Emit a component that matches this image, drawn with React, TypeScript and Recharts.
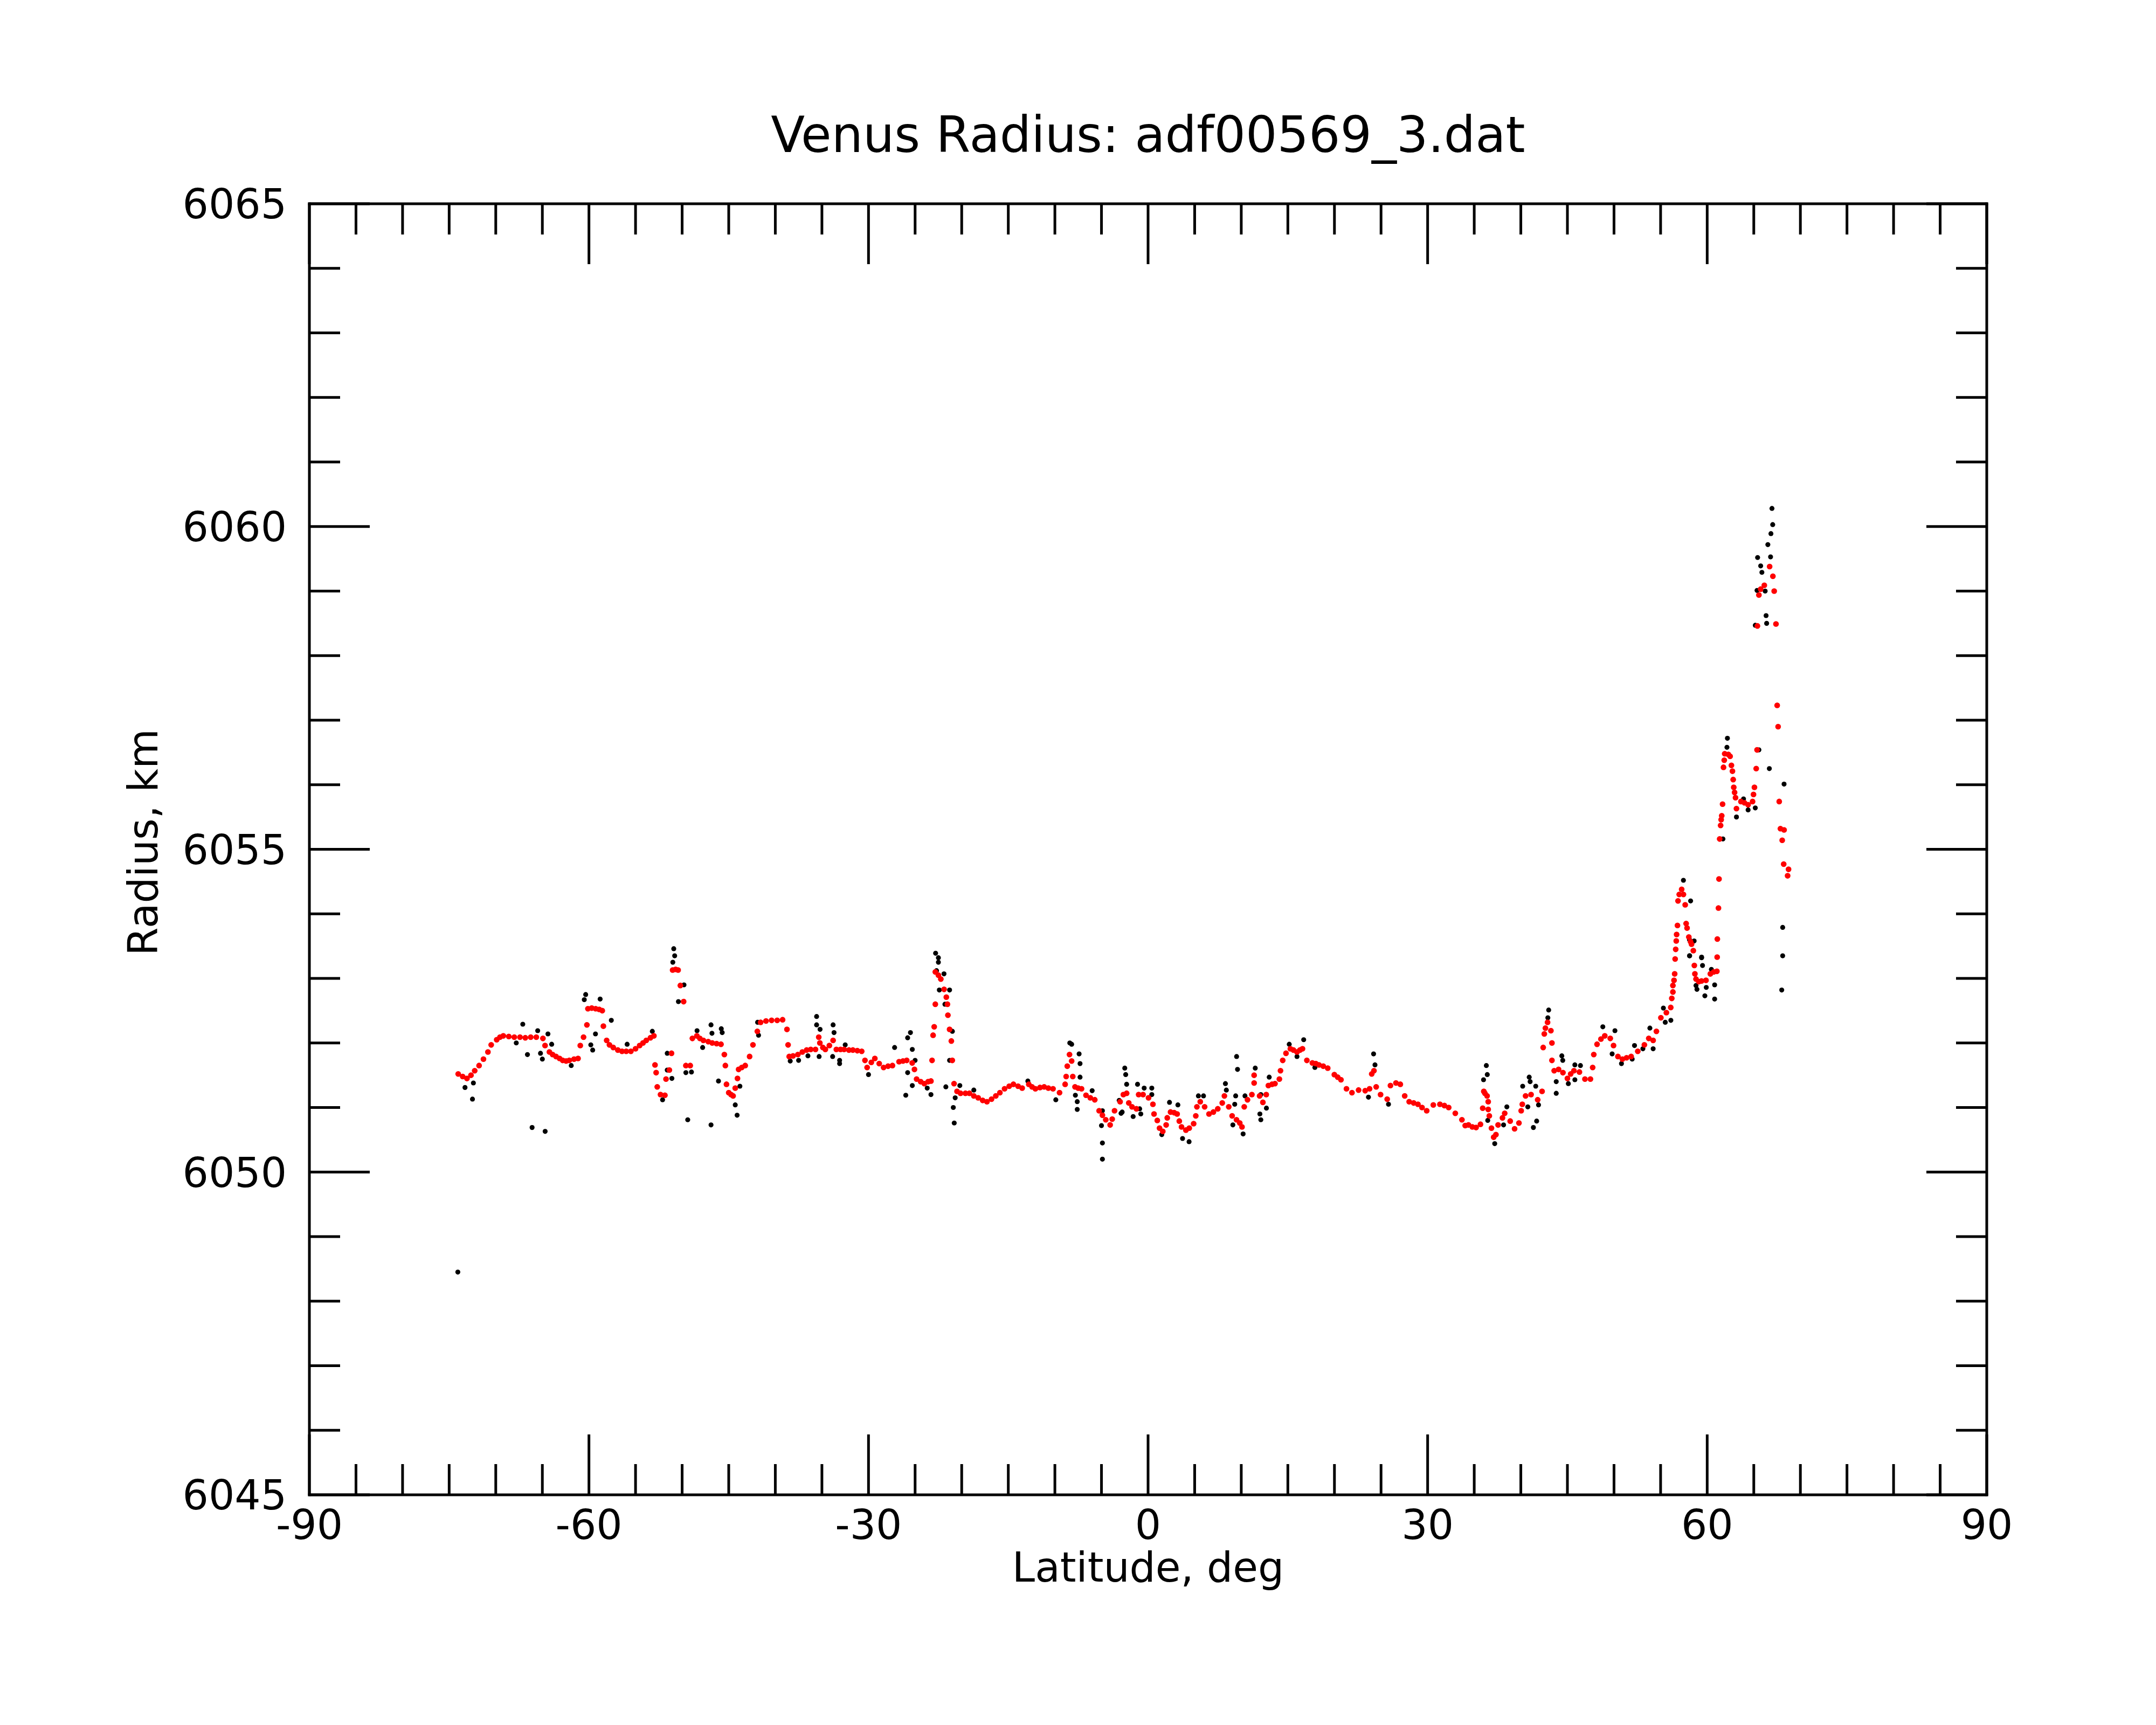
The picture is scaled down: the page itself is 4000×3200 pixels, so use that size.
import React from 'react';
import { ScatterChart, Scatter, XAxis, YAxis, Label } from 'recharts';

// ---------- tick values ----------
const xTickValues = [-90, -85, -80, -75, -70, -65, -60, -55, -50, -45, -40, -35, -30, -25, -20, -15, -10, -5, 0, 5, 10, 15, 20, 25, 30, 35, 40, 45, 50, 55, 60, 65, 70, 75, 80, 85, 90];
const yTickValues = [6045, 6046, 6047, 6048, 6049, 6050, 6051, 6052, 6053, 6054, 6055, 6056, 6057, 6058, 6059, 6060, 6061, 6062, 6063, 6064, 6065];
const xMajorStep = 30;
const yMajorStep = 5;

const titleText = 'Venus Radius: adf00569_3.dat';
const xLabelText = 'Latitude, deg';
const yLabelText = 'Radius, km';

// ---------- red (filtered) series: [latitude, radius] ----------
const redSouth: [number, number][] = [
  [-74.03, 6051.52], [-73.55, 6051.48], [-73.09, 6051.45], [-72.66, 6051.5], [-72.26, 6051.57], [-71.79, 6051.65],
  [-71.32, 6051.75], [-70.84, 6051.86], [-70.49, 6051.97], [-69.9, 6052.05], [-69.55, 6052.09], [-69.19, 6052.11],
  [-68.6, 6052.1], [-68.01, 6052.09], [-67.4, 6052.09], [-66.83, 6052.08], [-66.25, 6052.09], [-65.65, 6052.09],
  [-64.94, 6052.07], [-64.71, 6051.96], [-64.24, 6051.86], [-63.9, 6051.82], [-63.53, 6051.79], [-63.15, 6051.76],
  [-62.82, 6051.73], [-62.45, 6051.72], [-62.11, 6051.73], [-61.6, 6051.75], [-61.17, 6051.76], [-60.93, 6051.96],
  [-60.58, 6052.09], [-60.22, 6052.28], [-60.11, 6052.53], [-59.7, 6052.54], [-59.28, 6052.53], [-58.9, 6052.52],
  [-58.57, 6052.5], [-58.45, 6052.26], [-58.1, 6052.04], [-57.8, 6051.97], [-57.39, 6051.93], [-56.9, 6051.89],
  [-56.45, 6051.87], [-56.0, 6051.87], [-55.5, 6051.87], [-55.0, 6051.91], [-54.56, 6051.96], [-54.2, 6052.0],
  [-53.85, 6052.04], [-53.4, 6052.08], [-53.03, 6052.11], [-52.91, 6051.66], [-52.79, 6051.54], [-52.67, 6051.32],
  [-52.32, 6051.2], [-51.85, 6051.19], [-51.73, 6051.44], [-51.37, 6051.58], [-51.14, 6051.84], [-51.02, 6053.13],
  [-50.7, 6053.14], [-50.43, 6053.13], [-50.19, 6052.89], [-49.84, 6052.64], [-49.6, 6051.65], [-49.13, 6051.65],
  [-48.9, 6052.07], [-48.42, 6052.11], [-48.1, 6052.07], [-47.72, 6052.04], [-47.2, 6052.02], [-46.77, 6052.0],
  [-46.3, 6051.99], [-45.83, 6051.98], [-45.47, 6051.82], [-45.36, 6051.65], [-45.24, 6051.36], [-45.0, 6051.23],
  [-44.75, 6051.2], [-44.53, 6051.18], [-44.3, 6051.3], [-44.06, 6051.45], [-43.94, 6051.59], [-43.6, 6051.62],
  [-43.23, 6051.65], [-42.76, 6051.79], [-42.4, 6051.97], [-41.93, 6052.18], [-41.58, 6052.32], [-41.0, 6052.34],
  [-40.4, 6052.35], [-39.8, 6052.35], [-39.22, 6052.36], [-38.75, 6052.21], [-38.63, 6051.97], [-38.51, 6051.79],
  [-38.1, 6051.8], [-37.58, 6051.82], [-37.1, 6051.86], [-36.64, 6051.89], [-36.2, 6051.9], [-35.69, 6051.9],
  [-35.34, 6052.09], [-35.22, 6052.0], [-34.9, 6051.93], [-34.63, 6051.9], [-34.2, 6051.96], [-33.8, 6052.04],
  [-33.45, 6051.9], [-33.0, 6051.9], [-32.62, 6051.9], [-32.1, 6051.89], [-31.68, 6051.89], [-31.2, 6051.88],
  [-30.73, 6051.87], [-30.38, 6051.73], [-30.15, 6051.62], [-29.7, 6051.7], [-29.32, 6051.76], [-28.85, 6051.68],
  [-28.38, 6051.62], [-27.9, 6051.64], [-27.43, 6051.65], [-26.72, 6051.71], [-26.3, 6051.72], [-25.9, 6051.73],
  [-25.31, 6051.69], [-25.07, 6051.59], [-24.84, 6051.44], [-24.4, 6051.4], [-24.01, 6051.37], [-23.6, 6051.4],
  [-23.3, 6051.41], [-23.18, 6051.73], [-23.07, 6052.12], [-22.95, 6052.25], [-22.83, 6052.6], [-22.83, 6053.1],
  [-22.5, 6053.05], [-22.24, 6052.99], [-21.89, 6052.83], [-21.65, 6052.71], [-21.53, 6052.6], [-21.48, 6052.43],
  [-21.3, 6052.21], [-21.11, 6052.03], [-21.01, 6051.73], [-20.82, 6051.37],
];

const redEquator: [number, number][] = [
  [-20.5, 6051.25], [-20.12, 6051.22], [-19.6, 6051.22], [-19.17, 6051.22], [-18.7, 6051.18], [-18.23, 6051.15],
  [-17.75, 6051.11], [-17.29, 6051.09], [-16.8, 6051.13], [-16.34, 6051.18], [-15.9, 6051.23], [-15.4, 6051.29],
  [-14.9, 6051.33], [-14.45, 6051.36], [-13.95, 6051.33], [-13.51, 6051.3], [-12.8, 6051.36], [-12.45, 6051.32],
  [-12.09, 6051.29], [-11.6, 6051.31], [-11.15, 6051.32], [-10.7, 6051.3], [-10.2, 6051.29], [-9.5, 6051.23],
  [-8.9, 6051.36], [-8.79, 6051.48], [-8.67, 6051.64], [-8.43, 6051.82], [-8.2, 6051.72], [-8.08, 6051.48],
  [-7.84, 6051.32], [-7.5, 6051.3], [-7.14, 6051.29], [-6.66, 6051.19], [-6.2, 6051.15], [-5.72, 6051.12],
  [-5.25, 6050.95], [-4.9, 6050.88], [-4.54, 6050.81], [-4.07, 6050.73], [-3.85, 6050.82], [-3.6, 6050.95],
  [-3.0, 6051.09], [-2.65, 6051.2], [-2.3, 6051.22], [-2.07, 6051.07], [-1.72, 6051.01], [-1.25, 6050.98],
  [-1.01, 6051.2], [-0.54, 6051.2], [0.05, 6051.15], [0.52, 6051.05], [0.64, 6050.9], [0.99, 6050.8],
  [1.23, 6050.68], [1.58, 6050.63], [1.94, 6050.73], [2.06, 6050.84], [2.41, 6050.93], [2.8, 6050.92],
  [3.12, 6050.9], [3.35, 6050.79], [3.59, 6050.7], [4.06, 6050.65], [4.42, 6050.68], [4.89, 6050.75],
  [5.12, 6050.87], [5.24, 6051.01], [5.6, 6051.09], [6.07, 6051.01], [6.54, 6050.9], [7.01, 6050.93],
  [7.48, 6050.98], [7.96, 6051.07], [8.19, 6051.18], [8.66, 6051.01], [9.02, 6050.87], [9.49, 6050.81],
  [9.84, 6050.76], [10.08, 6050.7], [10.32, 6051.01], [10.67, 6051.12], [11.14, 6051.2], [11.38, 6051.5],
  [11.38, 6051.38], [11.97, 6051.18], [12.32, 6051.08], [12.68, 6051.2], [12.91, 6051.34], [13.3, 6051.36],
  [13.62, 6051.37], [14.09, 6051.44], [14.21, 6051.57], [14.45, 6051.73], [14.8, 6051.84], [15.27, 6051.91],
  [15.6, 6051.89], [15.98, 6051.86], [16.3, 6051.89], [16.57, 6051.91], [17.04, 6051.73], [17.63, 6051.69],
  [18.0, 6051.68], [18.34, 6051.66], [18.8, 6051.64], [19.28, 6051.61], [19.99, 6051.51], [20.35, 6051.47],
  [20.7, 6051.43], [21.29, 6051.29], [21.88, 6051.23], [22.59, 6051.27], [23.3, 6051.26], [23.77, 6051.29],
  [24.0, 6051.52], [24.24, 6051.57], [24.48, 6051.32], [24.95, 6051.2], [25.66, 6051.13], [26.01, 6051.34],
  [26.6, 6051.38], [27.07, 6051.36], [27.54, 6051.18], [28.02, 6051.09], [28.5, 6051.07], [28.96, 6051.05],
  [29.4, 6051.0], [29.9, 6050.95], [30.61, 6051.04], [31.32, 6051.05], [31.8, 6051.03], [32.26, 6051.0],
  [32.97, 6050.91], [33.68, 6050.81], [34.03, 6050.72],
];

const redNorth: [number, number][] = [
  [34.38, 6050.73], [34.8, 6050.7], [35.2, 6050.69], [35.67, 6050.74], [35.91, 6050.99], [36.03, 6051.25],
  [36.15, 6051.22], [36.38, 6051.18], [36.5, 6051.09], [36.5, 6050.97], [36.62, 6050.87], [36.85, 6050.68],
  [37.09, 6050.54], [37.33, 6050.58], [37.56, 6050.73], [38.03, 6050.84], [38.27, 6050.91], [38.86, 6050.79],
  [39.33, 6050.67], [39.8, 6050.76], [40.04, 6050.95], [40.16, 6051.05], [40.51, 6051.18], [41.1, 6051.2],
  [41.81, 6051.12], [42.28, 6051.25], [42.4, 6051.93], [42.52, 6052.14], [42.64, 6052.23], [42.87, 6052.32],
  [43.23, 6052.19], [43.34, 6052.0], [43.34, 6051.73], [43.58, 6051.57], [44.05, 6051.59], [44.52, 6051.54],
  [45.0, 6051.45], [45.35, 6051.52], [45.7, 6051.57], [46.29, 6051.55], [46.88, 6051.44], [47.47, 6051.44],
  [47.71, 6051.62], [47.83, 6051.82], [48.18, 6051.98], [48.6, 6052.06], [49.01, 6052.11], [49.6, 6052.07],
  [49.95, 6051.96], [50.42, 6051.79], [50.9, 6051.75], [51.35, 6051.77], [51.84, 6051.79], [52.55, 6051.87],
  [53.26, 6051.97], [53.73, 6052.07], [54.2, 6052.04], [54.55, 6052.18], [55.03, 6052.39], [55.62, 6052.47],
  [56.09, 6052.55], [56.2, 6052.69], [56.32, 6052.79], [56.32, 6052.89], [56.44, 6052.97], [56.51, 6053.07],
  [56.56, 6053.3], [56.62, 6053.45], [56.68, 6053.58], [56.72, 6053.68], [56.81, 6053.82], [56.87, 6054.2],
  [57.0, 6054.3], [57.26, 6054.38], [57.45, 6054.3], [57.64, 6054.14], [57.74, 6053.85], [57.84, 6053.78],
  [58.03, 6053.64], [58.21, 6053.57], [58.32, 6053.53], [58.51, 6053.43], [58.62, 6053.2], [58.68, 6053.07],
  [58.8, 6052.99], [59.1, 6052.95], [59.39, 6052.96], [59.87, 6052.97], [60.34, 6053.07], [60.7, 6053.1],
  [61.04, 6053.11], [61.07, 6053.33], [61.09, 6053.61], [61.21, 6054.09], [61.27, 6054.54], [61.34, 6055.16],
  [61.44, 6055.37], [61.5, 6055.46], [61.56, 6055.52], [61.65, 6055.7], [61.75, 6056.27], [61.83, 6056.38],
  [61.88, 6056.48], [62.27, 6056.47], [62.46, 6056.44], [62.6, 6056.3], [62.71, 6056.21], [62.79, 6056.08],
  [62.85, 6055.96], [62.94, 6055.88], [63.04, 6055.8], [63.14, 6055.63], [63.62, 6055.74], [64.0, 6055.72],
  [64.39, 6055.69], [64.87, 6055.74], [64.97, 6055.85], [65.07, 6055.96], [65.26, 6056.25], [65.35, 6056.54],
  [65.39, 6058.46], [65.55, 6058.94], [65.74, 6059.03], [66.13, 6059.09], [66.7, 6059.38], [67.05, 6059.23],
  [67.19, 6059.0], [67.38, 6058.49], [67.51, 6057.23], [67.61, 6056.9], [67.73, 6055.74], [67.86, 6055.32],
  [68.05, 6055.14], [68.25, 6055.3], [68.21, 6054.77], [68.63, 6054.59], [68.73, 6054.69],
];

// ---------- black (raw) points away from the red trace: [latitude, radius] ----------
const blackSouth: [number, number][] = [
  [-74.07, 6048.45], [-72.5, 6051.13], [-73.3, 6051.31], [-72.4, 6051.38], [-67.1, 6052.29], [-66.6, 6051.82],
  [-67.8, 6052.0], [-65.5, 6052.19], [-64.4, 6052.14], [-64.0, 6051.98], [-65.2, 6051.84], [-65.0, 6051.75],
  [-66.1, 6050.69], [-64.7, 6050.63], [-61.9, 6051.65], [-60.35, 6052.75], [-60.5, 6052.67], [-58.8, 6052.68],
  [-57.6, 6052.35], [-59.3, 6052.14], [-59.8, 6051.97], [-59.6, 6051.89], [-55.9, 6051.98], [-53.2, 6052.18],
  [-50.9, 6053.46], [-50.8, 6053.35], [-51.0, 6053.25], [-49.8, 6052.9], [-50.4, 6052.64], [-51.6, 6051.84],
  [-51.6, 6051.58], [-51.1, 6051.45], [-52.1, 6051.12], [-48.4, 6052.19], [-47.8, 6051.93], [-49.6, 6051.54],
  [-49.0, 6051.55], [-46.9, 6052.28], [-46.8, 6052.15], [-45.8, 6052.22], [-45.7, 6052.16], [-46.1, 6051.41],
  [-49.4, 6050.81], [-46.9, 6050.73], [-44.3, 6051.04], [-44.1, 6050.88], [-43.8, 6051.33], [-41.9, 6052.32],
  [-41.8, 6052.12], [-38.4, 6051.72], [-35.57, 6052.41], [-35.57, 6052.28], [-35.2, 6052.21], [-33.8, 6052.28],
  [-33.7, 6052.16], [-35.3, 6051.79], [-33.85, 6051.79], [-33.1, 6051.73], [-33.1, 6051.68], [-37.5, 6051.73],
  [-36.5, 6051.8], [-32.5, 6051.97], [-30.0, 6051.51], [-27.2, 6051.93], [-25.8, 6052.08], [-25.5, 6052.16],
  [-25.3, 6051.9], [-25.0, 6051.73], [-25.8, 6051.54], [-25.3, 6051.34], [-26.0, 6051.19], [-23.3, 6051.2],
  [-23.7, 6051.3], [-22.8, 6053.39], [-22.5, 6053.32], [-22.5, 6053.25], [-22.7, 6053.12], [-21.9, 6053.07],
  [-22.4, 6052.82], [-21.3, 6052.82], [-21.8, 6052.6], [-21.0, 6052.18], [-21.3, 6051.73], [-21.7, 6051.32],
  [-20.7, 6051.15], [-20.9, 6051.0], [-20.8, 6050.76], [-20.2, 6051.34],
];

const blackEquator: [number, number][] = [
  [-18.7, 6051.27], [-12.9, 6051.41], [-9.9, 6051.12], [-8.4, 6052.0], [-8.2, 6051.98], [-7.4, 6051.83],
  [-7.3, 6051.68], [-7.3, 6051.47], [-7.8, 6051.19], [-7.6, 6051.09], [-7.6, 6050.97], [-6.0, 6051.26],
  [-4.9, 6050.95], [-5.0, 6050.72], [-4.9, 6050.45], [-4.9, 6050.2], [-3.1, 6051.11], [-2.9, 6050.91],
  [-2.5, 6051.61], [-2.4, 6051.51], [-2.3, 6051.36], [-1.13, 6051.36], [-0.42, 6051.3], [0.4, 6051.3],
  [0.4, 6051.2], [-2.78, 6050.93], [-1.6, 6050.86], [-0.78, 6050.9], [-0.9, 6050.98], [2.3, 6051.08],
  [3.2, 6051.04], [1.47, 6050.58], [3.7, 6050.52], [4.4, 6050.47], [5.4, 6051.18], [5.95, 6051.18],
  [8.3, 6051.37], [8.4, 6051.27], [9.5, 6051.79], [9.6, 6051.59], [9.4, 6051.18], [9.3, 6051.05],
  [9.1, 6050.73], [10.2, 6050.59], [10.4, 6051.18], [11.5, 6051.61], [12.1, 6051.2], [12.0, 6050.9],
  [12.1, 6050.81], [12.7, 6050.99], [13.0, 6051.47], [15.15, 6051.98], [16.7, 6052.05], [15.98, 6051.79],
  [17.9, 6051.62], [24.2, 6051.83], [24.35, 6051.66], [25.8, 6051.05], [23.65, 6051.16],
];

const blackNorth: [number, number][] = [
  [36.3, 6051.65], [36.4, 6051.51], [36.0, 6051.43], [36.45, 6050.8], [37.2, 6050.44], [38.5, 6051.01],
  [38.15, 6050.73], [40.9, 6051.47], [41.0, 6051.4], [40.2, 6051.33], [41.6, 6051.33], [41.9, 6051.04],
  [40.75, 6051.01], [41.7, 6050.79], [41.35, 6050.69], [42.99, 6052.51], [42.9, 6052.39], [44.4, 6051.8],
  [44.5, 6051.73], [43.8, 6051.4], [43.8, 6051.22], [45.1, 6051.37], [45.8, 6051.66], [46.4, 6051.65],
  [45.8, 6051.43], [48.8, 6052.25], [50.1, 6052.19], [49.8, 6051.83], [50.8, 6051.68], [51.95, 6051.75],
  [52.2, 6051.96], [53.1, 6051.91], [53.85, 6052.23], [54.2, 6051.91], [55.3, 6052.54], [55.5, 6052.32],
  [56.1, 6052.35], [58.1, 6053.6], [58.1, 6053.35], [59.4, 6053.32], [59.5, 6053.2], [58.8, 6052.89],
  [58.9, 6052.83], [59.9, 6052.86], [59.75, 6052.73], [60.8, 6052.9], [60.8, 6052.68], [60.45, 6053.14],
  [68.1, 6053.79], [68.1, 6053.35], [68.0, 6052.82], [66.95, 6060.28], [67.03, 6060.03], [66.84, 6059.89],
  [66.51, 6059.72], [65.41, 6059.52], [66.8, 6059.53], [65.74, 6059.39], [65.87, 6059.29], [65.35, 6059.01],
  [66.22, 6059.0], [66.32, 6058.62], [66.38, 6058.5], [65.16, 6058.47], [62.17, 6056.72], [62.12, 6056.58],
  [65.55, 6056.54], [66.67, 6056.25], [68.25, 6056.01], [63.9, 6055.78], [64.39, 6055.61], [65.16, 6055.64],
  [63.14, 6055.5], [61.69, 6055.16], [57.45, 6054.52], [58.22, 6054.2], [58.12, 6053.35], [59.4, 6053.33],
  [58.6, 6053.58],
];

// ---------- build series ----------
type Row = { lat: number; r: number };
const toRows = (pairs: [number, number][]): Row[] => pairs.map(([lat, r]) => ({ lat, r }));
const redData = toRows([...redSouth, ...redEquator, ...redNorth]);
// raw data contains every filtered point plus the rejected outliers
const blackData = toRows([...redSouth, ...redEquator, ...redNorth, ...blackSouth, ...blackEquator, ...blackNorth]);

const FONT = 'DejaVu Sans';
const INK = '#000000';
const RED = '#ff0000';
const LINE_W = 5;
const MAJOR_LEN = 112;
const MINOR_LEN = 57;
const TICK_FONT = 76;
const LABEL_FONT = 76;

const isMajor = (v: number, step: number) => Math.abs(v % step) < 1e-6;

const BottomTick = (props: any) => {
  const { x, y, payload } = props;
  const major = isMajor(payload.value, xMajorStep);
  return (
    <g>
      <line x1={x} y1={y} x2={x} y2={y - (major ? MAJOR_LEN : MINOR_LEN)} stroke={INK} strokeWidth={LINE_W} />
      {major && (
        <text x={x} y={y + 82} textAnchor="middle" fontSize={TICK_FONT} fontFamily={FONT} fill={INK}>
          {payload.value}
        </text>
      )}
    </g>
  );
};

const TopTick = (props: any) => {
  const { x, y, payload } = props;
  const major = isMajor(payload.value, xMajorStep);
  return <line x1={x} y1={y} x2={x} y2={y + (major ? MAJOR_LEN : MINOR_LEN)} stroke={INK} strokeWidth={LINE_W} />;
};

const LeftTick = (props: any) => {
  const { x, y, payload } = props;
  const major = isMajor(payload.value, yMajorStep);
  return (
    <g>
      <line x1={x} y1={y} x2={x + (major ? MAJOR_LEN : MINOR_LEN)} y2={y} stroke={INK} strokeWidth={LINE_W} />
      {major && (
        <text x={x - 42} y={y} dy="0.36em" textAnchor="end" fontSize={TICK_FONT} fontFamily={FONT} fill={INK}>
          {payload.value}
        </text>
      )}
    </g>
  );
};

const RightTick = (props: any) => {
  const { x, y, payload } = props;
  const major = isMajor(payload.value, yMajorStep);
  return <line x1={x} y1={y} x2={x - (major ? MAJOR_LEN : MINOR_LEN)} y2={y} stroke={INK} strokeWidth={LINE_W} />;
};

const BlackDot = (p: any) => <circle cx={p.cx} cy={p.cy} r={4.6} fill={INK} />;
const RedDot = (p: any) => <circle cx={p.cx} cy={p.cy} r={5.3} fill={RED} />;
const NoDot = () => <g />;

const axisLineStyle = { stroke: INK, strokeWidth: LINE_W, strokeLinecap: 'square' as const };

const TitleLabel = (p: any) => {
  const vb = p.viewBox;
  return (
    <text x={vb.x + vb.width / 2} y={vb.y + vb.height - 96} textAnchor="middle" fontSize={92} fontFamily={FONT} fill={INK}>
      {titleText}
    </text>
  );
};

const XLabel = (p: any) => {
  const vb = p.viewBox;
  return (
    <text x={vb.x + vb.width / 2} y={vb.y + 161} textAnchor="middle" fontSize={LABEL_FONT} fontFamily={FONT} fill={INK}>
      {xLabelText}
    </text>
  );
};

const YLabel = (p: any) => {
  const vb = p.viewBox;
  const cx = vb.x + vb.width - 282;
  const cy = vb.y + vb.height / 2 - 13;
  return (
    <text x={cx} y={cy} transform={`rotate(-90, ${cx}, ${cy})`} textAnchor="middle" fontSize={LABEL_FONT} fontFamily={FONT} fill={INK}>
      {yLabelText}
    </text>
  );
};

export default function App() {
  return (
    <div style={{ position: 'absolute', left: 0, top: 0, width: 4000, height: 3200, background: '#ffffff' }}>
      <ScatterChart width={4000} height={3200} margin={{ top: 368, right: 304, bottom: 227, left: 374 }}>
        <XAxis
          xAxisId="bottom"
          type="number"
          dataKey="lat"
          orientation="bottom"
          domain={[-90, 90]}
          allowDataOverflow
          ticks={xTickValues}
          interval={0}
          height={200}
          tickSize={0}
          tickMargin={0}
          tickLine={false}
          axisLine={axisLineStyle}
          tick={<BottomTick />}
        >
          <Label content={<XLabel />} />
        </XAxis>
        <XAxis
          xAxisId="top"
          type="number"
          dataKey="lat"
          orientation="top"
          domain={[-90, 90]}
          allowDataOverflow
          ticks={xTickValues}
          interval={0}
          height={10}
          tickSize={0}
          tickMargin={0}
          tickLine={false}
          axisLine={axisLineStyle}
          tick={<TopTick />}
        >
          <Label content={<TitleLabel />} />
        </XAxis>
        <YAxis
          yAxisId="left"
          type="number"
          dataKey="r"
          orientation="left"
          domain={[6045, 6065]}
          allowDataOverflow
          ticks={yTickValues}
          interval={0}
          width={200}
          tickSize={0}
          tickMargin={0}
          tickLine={false}
          axisLine={axisLineStyle}
          tick={<LeftTick />}
        >
          <Label content={<YLabel />} />
        </YAxis>
        <YAxis
          yAxisId="right"
          type="number"
          dataKey="r"
          orientation="right"
          domain={[6045, 6065]}
          allowDataOverflow
          ticks={yTickValues}
          interval={0}
          width={10}
          tickSize={0}
          tickMargin={0}
          tickLine={false}
          axisLine={axisLineStyle}
          tick={<RightTick />}
        />
        <Scatter xAxisId="top" yAxisId="right" data={redData} shape={<NoDot />} isAnimationActive={false} />
        <Scatter xAxisId="bottom" yAxisId="left" data={blackData} shape={<BlackDot />} isAnimationActive={false} />
        <Scatter xAxisId="bottom" yAxisId="left" data={redData} shape={<RedDot />} isAnimationActive={false} />
      </ScatterChart>
    </div>
  );
}
